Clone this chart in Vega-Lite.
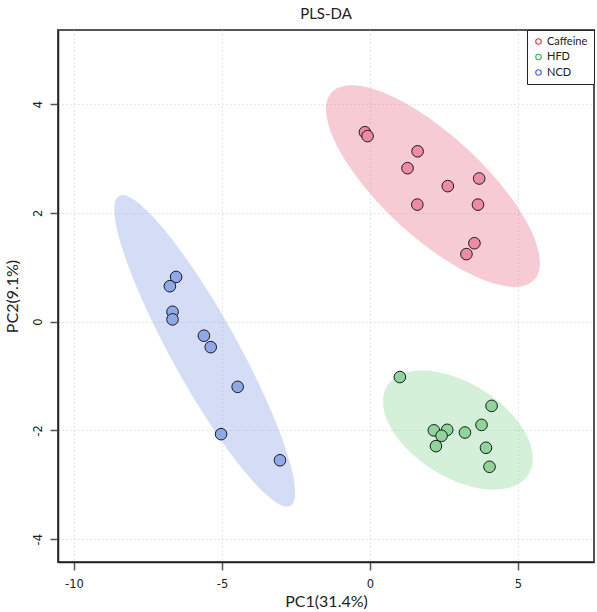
{
  "$schema": "https://vega.github.io/schema/vega-lite/v6.json",
  "width": 536,
  "height": 532,
  "autosize": "none",
  "padding": {"left": 58, "top": 30, "right": 3, "bottom": 50},
  "background": "white",
  "title": {"text": "PLS-DA", "font": "Lato", "fontSize": 15, "fontWeight": "normal", "color": "#222", "offset": 8, "anchor": "middle"},
  "config": {
    "view": {"stroke": "#555", "strokeWidth": 2},
    "axis": {
      "domainColor": "#222", "domainWidth": 1.5,
      "tickColor": "#555", "tickWidth": 1.5, "tickSize": 8,
      "gridColor": "#cfcfcf", "gridDash": [1, 3], "gridWidth": 1,
      "labelFont": "DejaVu Sans", "labelFontSize": 11.5, "labelColor": "#222",
      "titleFont": "Lato", "titleFontSize": 16, "titleFontWeight": "normal", "titleColor": "#222"
    }
  },
  "datasets": {
    "points": [
      {"group": "Caffeine", "PC1": -0.17, "PC2": 3.48},
      {"group": "Caffeine", "PC1": -0.08, "PC2": 3.41},
      {"group": "Caffeine", "PC1": 1.61, "PC2": 3.13},
      {"group": "Caffeine", "PC1": 1.27, "PC2": 2.82},
      {"group": "Caffeine", "PC1": 2.63, "PC2": 2.49},
      {"group": "Caffeine", "PC1": 3.69, "PC2": 2.63},
      {"group": "Caffeine", "PC1": 1.60, "PC2": 2.15},
      {"group": "Caffeine", "PC1": 3.65, "PC2": 2.15},
      {"group": "Caffeine", "PC1": 3.53, "PC2": 1.44},
      {"group": "Caffeine", "PC1": 3.26, "PC2": 1.24},
      {"group": "HFD", "PC1": 1.01, "PC2": -1.02},
      {"group": "HFD", "PC1": 4.11, "PC2": -1.55},
      {"group": "HFD", "PC1": 3.77, "PC2": -1.90},
      {"group": "HFD", "PC1": 2.16, "PC2": -2.00},
      {"group": "HFD", "PC1": 2.61, "PC2": -1.99},
      {"group": "HFD", "PC1": 2.42, "PC2": -2.10},
      {"group": "HFD", "PC1": 3.21, "PC2": -2.04},
      {"group": "HFD", "PC1": 2.23, "PC2": -2.29},
      {"group": "HFD", "PC1": 3.92, "PC2": -2.32},
      {"group": "HFD", "PC1": 4.04, "PC2": -2.67},
      {"group": "NCD", "PC1": -6.55, "PC2": 0.82},
      {"group": "NCD", "PC1": -6.76, "PC2": 0.65},
      {"group": "NCD", "PC1": -6.67, "PC2": 0.18},
      {"group": "NCD", "PC1": -6.67, "PC2": 0.04},
      {"group": "NCD", "PC1": -5.61, "PC2": -0.26},
      {"group": "NCD", "PC1": -5.38, "PC2": -0.47},
      {"group": "NCD", "PC1": -4.47, "PC2": -1.20},
      {"group": "NCD", "PC1": -5.03, "PC2": -2.07},
      {"group": "NCD", "PC1": -3.04, "PC2": -2.55}
    ],
    "ellipses": [
      {"group": "Caffeine", "i": 0, "ex": 5.549, "ey": 0.767},
      {"group": "Caffeine", "i": 1, "ex": 5.132, "ey": 0.650},
      {"group": "Caffeine", "i": 2, "ex": 4.510, "ey": 0.657},
      {"group": "Caffeine", "i": 3, "ex": 3.726, "ey": 0.790},
      {"group": "Caffeine", "i": 4, "ex": 2.833, "ey": 1.038},
      {"group": "Caffeine", "i": 5, "ex": 1.892, "ey": 1.386},
      {"group": "Caffeine", "i": 6, "ex": 0.967, "ey": 1.808},
      {"group": "Caffeine", "i": 7, "ex": 0.121, "ey": 2.278},
      {"group": "Caffeine", "i": 8, "ex": -0.588, "ey": 2.762},
      {"group": "Caffeine", "i": 9, "ex": -1.112, "ey": 3.227},
      {"group": "Caffeine", "i": 10, "ex": -1.415, "ey": 3.642},
      {"group": "Caffeine", "i": 11, "ex": -1.477, "ey": 3.979},
      {"group": "Caffeine", "i": 12, "ex": -1.293, "ey": 4.215},
      {"group": "Caffeine", "i": 13, "ex": -0.876, "ey": 4.332},
      {"group": "Caffeine", "i": 14, "ex": -0.254, "ey": 4.325},
      {"group": "Caffeine", "i": 15, "ex": 0.530, "ey": 4.192},
      {"group": "Caffeine", "i": 16, "ex": 1.423, "ey": 3.944},
      {"group": "Caffeine", "i": 17, "ex": 2.364, "ey": 3.596},
      {"group": "Caffeine", "i": 18, "ex": 3.289, "ey": 3.174},
      {"group": "Caffeine", "i": 19, "ex": 4.135, "ey": 2.704},
      {"group": "Caffeine", "i": 20, "ex": 4.844, "ey": 2.220},
      {"group": "Caffeine", "i": 21, "ex": 5.368, "ey": 1.755},
      {"group": "Caffeine", "i": 22, "ex": 5.671, "ey": 1.340},
      {"group": "Caffeine", "i": 23, "ex": 5.733, "ey": 1.003},
      {"group": "HFD", "i": 0, "ex": 5.362, "ey": -2.806},
      {"group": "HFD", "i": 1, "ex": 5.063, "ey": -2.968},
      {"group": "HFD", "i": 2, "ex": 4.621, "ey": -3.064},
      {"group": "HFD", "i": 3, "ex": 4.067, "ey": -3.087},
      {"group": "HFD", "i": 4, "ex": 3.439, "ey": -3.035},
      {"group": "HFD", "i": 5, "ex": 2.779, "ey": -2.912},
      {"group": "HFD", "i": 6, "ex": 2.132, "ey": -2.727},
      {"group": "HFD", "i": 7, "ex": 1.542, "ey": -2.491},
      {"group": "HFD", "i": 8, "ex": 1.050, "ey": -2.222},
      {"group": "HFD", "i": 9, "ex": 0.689, "ey": -1.938},
      {"group": "HFD", "i": 10, "ex": 0.483, "ey": -1.657},
      {"group": "HFD", "i": 11, "ex": 0.448, "ey": -1.399},
      {"group": "HFD", "i": 12, "ex": 0.584, "ey": -1.182},
      {"group": "HFD", "i": 13, "ex": 0.883, "ey": -1.020},
      {"group": "HFD", "i": 14, "ex": 1.325, "ey": -0.924},
      {"group": "HFD", "i": 15, "ex": 1.879, "ey": -0.901},
      {"group": "HFD", "i": 16, "ex": 2.507, "ey": -0.953},
      {"group": "HFD", "i": 17, "ex": 3.167, "ey": -1.076},
      {"group": "HFD", "i": 18, "ex": 3.814, "ey": -1.261},
      {"group": "HFD", "i": 19, "ex": 4.404, "ey": -1.497},
      {"group": "HFD", "i": 20, "ex": 4.896, "ey": -1.766},
      {"group": "HFD", "i": 21, "ex": 5.257, "ey": -2.050},
      {"group": "HFD", "i": 22, "ex": 5.463, "ey": -2.331},
      {"group": "HFD", "i": 23, "ex": 5.498, "ey": -2.589},
      {"group": "NCD", "i": 0, "ex": -2.687, "ey": -3.388},
      {"group": "NCD", "i": 1, "ex": -3.039, "ey": -3.367},
      {"group": "NCD", "i": 2, "ex": -3.565, "ey": -3.153},
      {"group": "NCD", "i": 3, "ex": -4.228, "ey": -2.761},
      {"group": "NCD", "i": 4, "ex": -4.983, "ey": -2.218},
      {"group": "NCD", "i": 5, "ex": -5.780, "ey": -1.561},
      {"group": "NCD", "i": 6, "ex": -6.563, "ey": -0.834},
      {"group": "NCD", "i": 7, "ex": -7.279, "ey": -0.086},
      {"group": "NCD", "i": 8, "ex": -7.880, "ey": 0.630},
      {"group": "NCD", "i": 9, "ex": -8.324, "ey": 1.267},
      {"group": "NCD", "i": 10, "ex": -8.582, "ey": 1.781},
      {"group": "NCD", "i": 11, "ex": -8.635, "ey": 2.136},
      {"group": "NCD", "i": 12, "ex": -8.481, "ey": 2.310},
      {"group": "NCD", "i": 13, "ex": -8.129, "ey": 2.289},
      {"group": "NCD", "i": 14, "ex": -7.603, "ey": 2.075},
      {"group": "NCD", "i": 15, "ex": -6.940, "ey": 1.683},
      {"group": "NCD", "i": 16, "ex": -6.185, "ey": 1.140},
      {"group": "NCD", "i": 17, "ex": -5.388, "ey": 0.483},
      {"group": "NCD", "i": 18, "ex": -4.605, "ey": -0.244},
      {"group": "NCD", "i": 19, "ex": -3.889, "ey": -0.992},
      {"group": "NCD", "i": 20, "ex": -3.288, "ey": -1.708},
      {"group": "NCD", "i": 21, "ex": -2.844, "ey": -2.345},
      {"group": "NCD", "i": 22, "ex": -2.586, "ey": -2.859},
      {"group": "NCD", "i": 23, "ex": -2.533, "ey": -3.214}
    ]
  },
  "layer": [
    {
      "data": {"name": "points"},
      "mark": {"type": "point", "shape": "circle", "filled": false, "size": 20, "strokeWidth": 1},
      "encoding": {
        "x": {"field": "PC1", "type": "quantitative", "scale": {"domain": [-10.54, 7.57], "nice": false, "zero": false},
          "axis": {"values": [-10, -5, 0, 5], "labelExpr": "'' + datum.value", "title": "PC1(31.4%)", "grid": true, "labelPadding": 8, "titlePadding": 4}},
        "y": {"field": "PC2", "type": "quantitative", "scale": {"domain": [-4.42, 5.36], "nice": false, "zero": false},
          "axis": {"values": [-4, -2, 0, 2, 4], "labelExpr": "'' + datum.value", "title": "PC2(9.1%)", "grid": true, "labelAngle": -90, "labelAlign": "center", "labelBaseline": "bottom", "labelPadding": 7, "titlePadding": 12}},
        "color": {"field": "group", "type": "nominal",
          "scale": {"domain": ["Caffeine", "HFD", "NCD"], "range": ["#e8333a", "#2fb84a", "#3a5fdd"]},
          "legend": {"title": null, "orient": "top-right", "offset": 0, "padding": 6, "strokeColor": "#222", "fillColor": "white",
            "symbolType": "circle", "symbolSize": 30, "symbolStrokeWidth": 1.1, "symbolFillColor": "transparent", "symbolOpacity": 1,
            "labelFont": "Lato", "labelFontSize": 11, "labelColor": "#222", "labelOffset": 3, "rowPadding": 3.5, "cornerRadius": 0}}
      }
    },
    {
      "data": {"name": "ellipses"},
      "transform": [{"filter": "datum.group === 'Caffeine'"}],
      "mark": {"type": "line", "interpolate": "cardinal-closed", "fill": "#e1526f", "fillOpacity": 0.3, "strokeOpacity": 0, "strokeWidth": 0},
      "encoding": {
        "x": {"field": "ex", "type": "quantitative"},
        "y": {"field": "ey", "type": "quantitative"},
        "order": {"field": "i", "type": "quantitative"}
      }
    },
    {
      "data": {"name": "ellipses"},
      "transform": [{"filter": "datum.group === 'HFD'"}],
      "mark": {"type": "line", "interpolate": "cardinal-closed", "fill": "#70cd80", "fillOpacity": 0.3, "strokeOpacity": 0, "strokeWidth": 0},
      "encoding": {
        "x": {"field": "ex", "type": "quantitative"},
        "y": {"field": "ey", "type": "quantitative"},
        "order": {"field": "i", "type": "quantitative"}
      }
    },
    {
      "data": {"name": "ellipses"},
      "transform": [{"filter": "datum.group === 'NCD'"}],
      "mark": {"type": "line", "interpolate": "cardinal-closed", "fill": "#708ede", "fillOpacity": 0.3, "strokeOpacity": 0, "strokeWidth": 0},
      "encoding": {
        "x": {"field": "ex", "type": "quantitative"},
        "y": {"field": "ey", "type": "quantitative"},
        "order": {"field": "i", "type": "quantitative"}
      }
    },
    {
      "data": {"name": "points"},
      "transform": [{"filter": "datum.group === 'Caffeine'"}],
      "mark": {"type": "point", "shape": "circle", "filled": true, "size": 135, "fill": "#ef8aa4", "stroke": "#1a1a1a", "strokeWidth": 1, "opacity": 1},
      "encoding": {
        "x": {"field": "PC1", "type": "quantitative"},
        "y": {"field": "PC2", "type": "quantitative"}
      }
    },
    {
      "data": {"name": "points"},
      "transform": [{"filter": "datum.group === 'HFD'"}],
      "mark": {"type": "point", "shape": "circle", "filled": true, "size": 135, "fill": "#8fd49b", "stroke": "#1a1a1a", "strokeWidth": 1, "opacity": 1},
      "encoding": {
        "x": {"field": "PC1", "type": "quantitative"},
        "y": {"field": "PC2", "type": "quantitative"}
      }
    },
    {
      "data": {"name": "points"},
      "transform": [{"filter": "datum.group === 'NCD'"}],
      "mark": {"type": "point", "shape": "circle", "filled": true, "size": 135, "fill": "#8fa8e8", "stroke": "#1a1a1a", "strokeWidth": 1, "opacity": 1},
      "encoding": {
        "x": {"field": "PC1", "type": "quantitative"},
        "y": {"field": "PC2", "type": "quantitative"}
      }
    }
  ]
}
